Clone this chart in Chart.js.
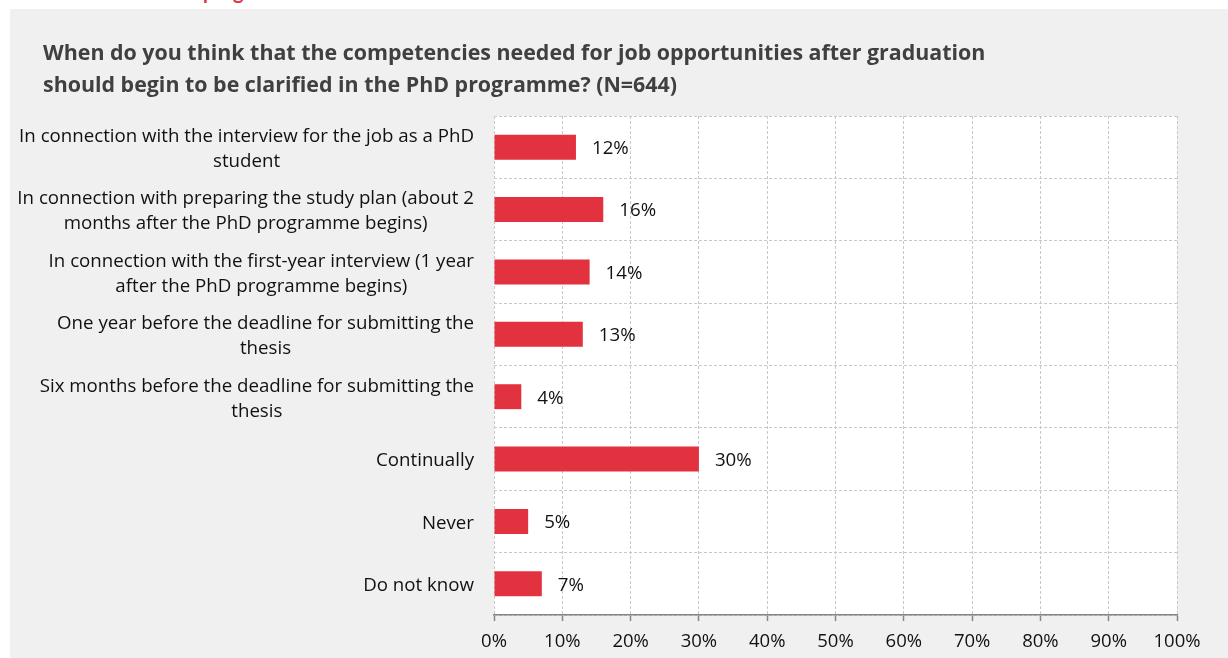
<!DOCTYPE html>
<html>
<head>
<meta charset="utf-8">
<script src="https://cdn.jsdelivr.net/npm/chart.js@4"></script>
<style>
body{margin:0;background:#fff;width:1228px;height:658px;overflow:hidden;position:relative}
#cut{position:absolute;left:0;top:0;width:1228px;height:9px;overflow:hidden}
#cut span{position:absolute;left:203px;top:-19px;font:bold 20px Lato;color:#e5323f;line-height:20px}
#panel{position:absolute;left:10px;top:9px;width:1218px;height:649px;background:#f0f0f0}
#title{position:absolute;left:33px;top:27px;font:bold 21.4px "Open Sans";color:#404040;line-height:32px}
#wrap{position:absolute;left:0;top:0;width:1218px;height:649px}
</style>
</head>
<body>
<div id="cut"><span>programme</span></div>
<div id="panel">
  <div id="wrap"><canvas id="c"></canvas></div>
  <div id="title">When do you think that the competencies needed for job opportunities after graduation<br>should begin to be clarified in the PhD programme? (N=644)</div>
</div>
<script>
const categories=[
  ["In connection with the interview for the job as a PhD","student"],
  ["In connection with preparing the study plan (about 2","months after the PhD programme begins)"],
  ["In connection with the first-year interview (1 year","after the PhD programme begins)"],
  ["One year before the deadline for submitting the","thesis"],
  ["Six months before the deadline for submitting the","thesis"],
  ["Continually"],
  ["Never"],
  ["Do not know"]
];
const values=[12,16,14,13,4,30,5,7];
const xTickLabels=["0%","10%","20%","30%","40%","50%","60%","70%","80%","90%","100%"];
const red="#E3323F";
const labelFont="18.7px 'Open Sans'";

const extras={id:"extras",
  beforeDraw(chart){
    const a=chart.chartArea,ctx=chart.ctx;
    ctx.save();ctx.fillStyle="#fff";ctx.fillRect(a.left,a.top,a.right-a.left,a.bottom-a.top);ctx.restore();
  },
  afterDraw(chart){
    const ctx=chart.ctx,ys=chart.scales.y,a=chart.chartArea;
    ctx.save();
    ctx.font=labelFont;ctx.fillStyle="#111";ctx.textBaseline="middle";ctx.textAlign="center";
    categories.forEach((lines,i)=>{
      const w=Math.max(...lines.map(l=>ctx.measureText(l).width));
      const cx=a.left-20-w/2,cy=ys.getPixelForValue(i)+2;
      lines.forEach((l,j)=>ctx.fillText(l,cx,cy+(j-(lines.length-1)/2)*25));
    });
    ctx.textAlign="left";
    chart.getDatasetMeta(0).data.forEach((bar,i)=>ctx.fillText(values[i]+"%",bar.x+16,bar.y+1.5));
    ctx.restore();
  }
};

new Chart("c",{type:"bar",
  data:{labels:categories,datasets:[{data:values,backgroundColor:red,barPercentage:0.4,categoryPercentage:1}]},
  options:{indexAxis:"y",responsive:true,maintainAspectRatio:false,animation:false,
    layout:{padding:{left:0,top:107,right:51,bottom:0}},
    plugins:{legend:{display:false},tooltip:{enabled:false}},
    scales:{
      x:{min:0,max:100,
        ticks:{stepSize:10,color:"#111",font:{family:"Open Sans",size:18.5},padding:10,maxRotation:0,callback:(v,i)=>xTickLabels[i]},
        grid:{color:"#c8c8c8",tickColor:"#868686",tickBorderDash:[],tickLength:6,tickWidth:1.5},
        border:{display:true,color:"#868686",width:1.5,dash:[3,2]},
        afterFit(s){s.height=43}
      },
      y:{ticks:{display:false},
        grid:{color:"#c8c8c8",drawTicks:false,offset:true},
        border:{display:false,dash:[3,2]},
        afterFit(s){s.width=484}
      }
    }
  },
  plugins:[extras]
});
</script>
</body>
</html>
